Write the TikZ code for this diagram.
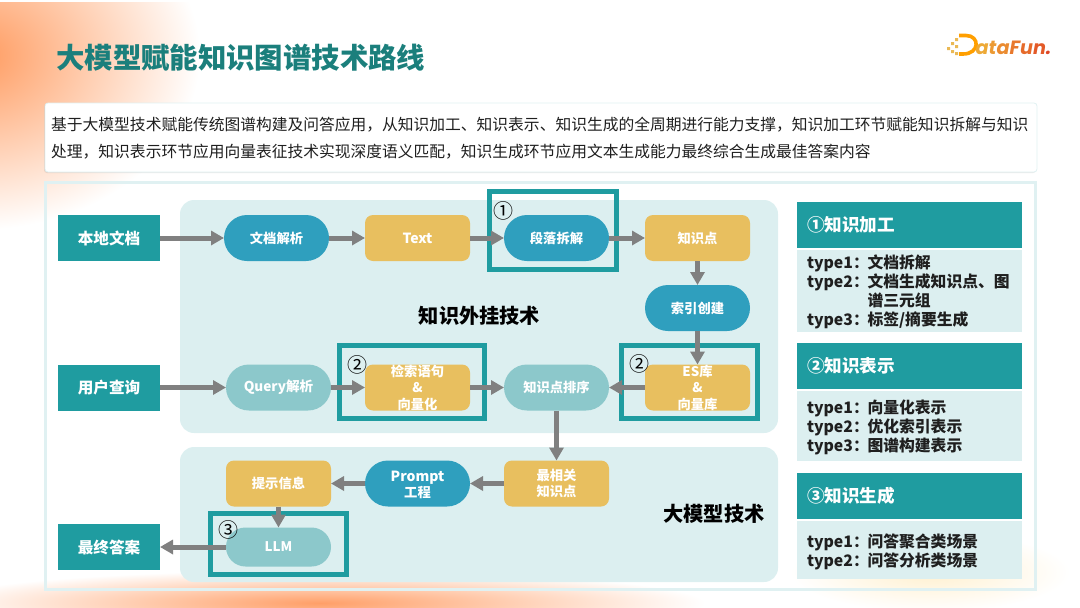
\documentclass[tikz,border=0pt]{standalone}
\usepackage{fontspec}
\setmainfont{Noto Sans CJK SC}
\newfontfamily\logofont{Poppins}
\usetikzlibrary{arrows.meta,shadows}
\definecolor{tealbox}{HTML}{1F9CA0}
\definecolor{panelbg}{HTML}{DCEFF0}
\definecolor{bluepill}{HTML}{2F9FBE}
\definecolor{lightpill}{HTML}{8CC8CB}
\definecolor{yellowbox}{HTML}{E8BF5F}
\definecolor{arrowgray}{HTML}{808080}
\definecolor{framec}{HTML}{E0F1F2}
\definecolor{titlec}{HTML}{1B7F7C}
\definecolor{orangeglow}{HTML}{FF9A5E}
\definecolor{orangeband}{HTML}{FF9F68}
\definecolor{yellowglow}{HTML}{FFF0CF}
\newcommand{\fz}[2]{\fontsize{#1}{#2}\selectfont}
\tikzset{
  base/.style={inner sep=0pt,outer sep=0pt,text=white,align=center,font=\bfseries\fz{13.3}{16.5}},
  io/.style={base,fill=tealbox,minimum width=102pt,minimum height=46pt,font=\bfseries\fz{15.6}{19}},
  pill/.style={base,fill=bluepill,minimum width=105pt,minimum height=46pt,rounded corners=23pt},
  lpill/.style={pill,fill=lightpill},
  ybox/.style={base,fill=yellowbox,minimum width=105pt,minimum height=46pt,rounded corners=8pt},
  hl/.style={draw=tealbox,line width=5pt,inner sep=0pt,outer sep=0pt},
  arr/.style={draw=arrowgray,line width=5pt,-{Triangle[length=13pt,width=14pt]}},
  num/.style={inner sep=0pt,text=black,font=\fz{20}{20}},
  big/.style={inner sep=0pt,text=black,font=\bfseries\fz{20.2}{24}},
  head/.style={base,fill=tealbox,minimum width=225pt,minimum height=46pt,text width=205pt,align=left,font=\bfseries\fz{17.6}{21}},
  body/.style={inner sep=0pt,outer sep=0pt,fill=panelbg,minimum width=225pt,text width=205pt,align=left,text=black!88,font=\bfseries\fz{15.8}{19}},
  panel/.style={fill=panelbg,rounded corners=14pt,inner sep=0pt},
}
\newcommand{\ty}[1]{\makebox[60.5pt][l]{type#1：}}
\begin{document}
\begin{tikzpicture}[x=1pt,y=-1pt]
\useasboundingbox (0,0) rectangle (1080,608);
% backgrounds
\begin{scope}
\clip (0,2) rectangle (1080,608);
\shade[inner color=orangeglow,outer color=white] (-25,55) ellipse (225 and 175);
\shade[inner color=yellowglow,outer color=white] (930,572) ellipse (140 and 40);
\shade[inner color=orangeband,outer color=white] (320,603) ellipse (385 and 33);
\end{scope}
% frame
\path[draw=framec,line width=3pt] (45.5,182.5) rectangle (1035.5,589);
% intro box
\node[fill=white,draw=framec,line width=.8pt,rounded corners=3pt,minimum width=992pt,minimum height=69pt,inner sep=0pt,
  drop shadow={opacity=.18,shadow xshift=-1pt,shadow yshift=-1pt}] (intro) at (541,137.5) {};
\node[anchor=west,inner sep=0pt,text=black!88,font=\fz{15.76}{27}] (introt) at (51,138.5)
 {\begin{tabular}{@{}l@{}}基于大模型技术赋能传统图谱构建及问答应用，从知识加工、知识表示、知识生成的全周期进行能力支撑，知识加工环节赋能知识拆解与知识\\[0pt]
 处理，知识表示环节应用向量表征技术实现深度语义匹配，知识生成环节应用文本生成能力最终综合生成最佳答案内容\end{tabular}};
% title
\node[anchor=west,inner sep=0pt,text=titlec,font=\bfseries\fz{28.4}{32}] (title) at (56,58) {大模型赋能知识图谱技术路线};
% logo
\fill[yellowbox!90!orange] (947,47) rectangle (950,50) (951,42) rectangle (954,45) (951,50) rectangle (954,53)
  (955,38) rectangle (958,41) (955,45) rectangle (958,48) (955,52) rectangle (958,55);
\draw[draw=orange!75!yellow,line width=3.6pt] (959,35.5) -- (966,35.5) .. controls (980,35.5) and (980,54) .. (963,54) -- (959,54);
\node[anchor=base west,inner sep=0pt,font=\logofont\bfseries\itshape\fz{19.2}{20}] (logot) at (975.5,54.5)
 {\textcolor[HTML]{EDA936}{a}\textcolor[HTML]{EC9A33}{t}\textcolor[HTML]{EA8B30}{a}\textcolor[HTML]{E8782C}{F}\textcolor[HTML]{E66A2A}{u}\textcolor[HTML]{E35A28}{n}\textcolor[HTML]{DE4626}{.}};
% panels
\node[panel,minimum width=598pt,minimum height=233pt] (p1) at (479,316.5) {};
\node[panel,minimum width=598pt,minimum height=135pt] (p2) at (479,514.5) {};
% highlight boxes
\node[hl,minimum width=127pt,minimum height=78pt] (h1) at (553,230.5) {};
\node[hl,minimum width=145pt,minimum height=73.5pt] (h2) at (412,382.2) {};
\node[hl,minimum width=136pt,minimum height=73pt] (h3) at (689.5,382) {};
\node[hl,minimum width=136pt,minimum height=61pt] (h4) at (278.5,544) {};
% io boxes
\node[io] (local) at (109,238) {本地文档};
\node[io] (query) at (109,387.5) {用户查询};
\node[io] (final) at (109,547) {最终答案};
% row 1
\node[pill] (parse) at (276.5,238) {文档解析};
\node[ybox] (text) at (417.5,238) {\fz{14}{16.5}Text};
\node[pill] (split) at (556.5,238) {段落拆解};
\node[ybox] (kp) at (697.5,238) {知识点};
\node[pill] (index) at (697.5,308) {索引创建};
% row 2
\node[lpill] (qparse) at (278.5,387.5) {\fz{13.6}{16.5}Query解析};
\node[ybox] (retr) at (417.5,387.5) {检索语句\\\&\\向量化};
\node[lpill] (rank) at (556.5,387.5) {知识点排序};
\node[ybox] (es) at (697.5,387.5) {ES库\\\&\\向量库};
% row 3
\node[ybox] (best) at (556.5,483.5) {\fz{13.3}{15}最相关\\知识点};
\node[pill] (prompt) at (417.5,483.5) {\fz{14}{16}\rule{0pt}{13pt}Prompt\\工程};
\node[ybox] (hint) at (278.5,483.5) {提示信息};
\node[lpill,minimum height=39pt,rounded corners=19.5pt] (llm) at (278.5,547) {LLM};
% arrows
\draw[arr] (local) -- (parse);
\draw[arr] (parse) -- (text);
\draw[arr] (text) -- (split);
\draw[arr] (split) -- (kp);
\draw[arr] (kp) -- (index);
\draw[arr] (index) -- (es);
\draw[arr] (query) -- (qparse);
\draw[arr] (qparse) -- (retr);
\draw[arr] (retr) -- (rank);
\draw[arr] (es) -- (rank);
\draw[arr] (rank) -- (best);
\draw[arr] (best) -- (prompt);
\draw[arr] (prompt) -- (hint);
\draw[arr] (hint) -- (llm);
\draw[arr] (llm) -- (final);
% numbers
\node[num] (n1) at (503,211) {①};
\node[num] (n2) at (357,365) {②};
\node[num] (n3) at (639.5,363.5) {②};
\node[num] (n4) at (228.5,530) {③};
% labels
\node[big] (lb1) at (479.5,316) {知识外挂技术};
\node[big] (lb2) at (714,514) {大模型技术};
% right column
\node[head] (ha) at (909.5,225) {①知识加工};
\node[body,minimum height=82pt] (ba) at (909.5,291) {\rule{0pt}{16pt}\ty{1}文档拆解\\\ty{2}文档生成知识点、图\\\hspace*{60.5pt}谱三元组\\\ty{3}标签/摘要生成};
\node[head] (hb) at (909.5,366) {②知识表示};
\node[body,minimum height=70pt] (bb) at (909.5,426) {\rule{0pt}{16pt}\ty{1}向量化表示\\\ty{2}优化索引表示\\\ty{3}图谱构建表示};
\node[head] (hc) at (909.5,496) {③知识生成};
\node[body,minimum height=58pt] (bc) at (909.5,550) {\rule{0pt}{18pt}\ty{1}问答聚合类场景\\\ty{2}问答分析类场景};
\end{tikzpicture}
\end{document}
